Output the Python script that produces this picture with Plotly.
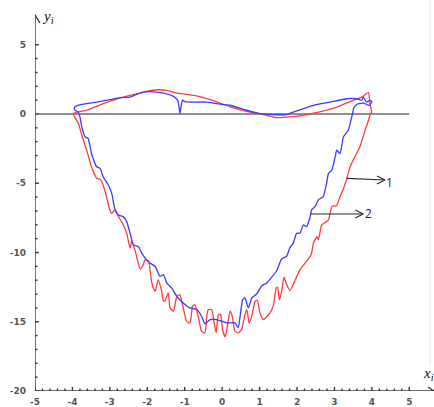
import plotly.graph_objects as go

# ---- data -------------------------------------------------------------
red_x = [-3.98, -3.62, -3.18, -2.73, -2.46, -2.19, -2.02, -1.72, -1.48, -1.21,
         -0.95, -0.68, -0.32, -0.06, 0.21, 0.65, 1.10, 1.46, 1.81, 2.26,
         2.61, 3.06, 3.50, 3.77, 3.84, 3.91, 3.95, 3.99,
         3.95, 3.91, 3.82, 3.68, 3.50, 3.42, 3.33, 3.24, 3.15, 3.06,
         2.93, 2.84, 2.72, 2.66, 2.57, 2.53, 2.44, 2.39, 2.35, 2.08,
         1.90, 1.81, 1.72, 1.65, 1.59, 1.53, 1.48, 1.44, 1.37, 1.28,
         1.10, 1.01, 0.94, 0.88, 0.79, 0.72, 0.66, 0.61, 0.52, 0.43,
         0.34, 0.27, 0.21, 0.14, 0.08, 0.01, -0.04, -0.10, -0.16, -0.22,
         -0.28, -0.37, -0.41, -0.46, -0.55, -0.64, -0.73, -0.79, -0.86, -0.95,
         -1.04, -1.13, -1.21, -1.30, -1.39, -1.44, -1.53, -1.57, -1.62, -1.71,
         -1.79, -1.88, -1.97, -2.06, -2.11, -2.19, -2.33, -2.42, -2.46, -2.55,
         -2.64, -2.77, -2.86, -2.95, -3.00, -3.09, -3.18, -3.26, -3.35, -3.49,
         -3.62, -3.75, -3.84, -3.98]
red_y = [0.03, 0.27, 0.75, 1.15, 1.35, 1.51, 1.63, 1.75, 1.70, 1.51,
         1.42, 1.30, 1.03, 0.79, 0.52, 0.19, -0.04, -0.26, -0.21, -0.04,
         0.15, 0.50, 0.99, 1.27, 1.45, 1.55, 0.75, 0.14,
         -0.09, -0.45, -1.17, -2.37, -3.33, -3.81, -4.65, -5.40, -5.97, -6.60,
         -6.69, -7.65, -7.90, -8.01, -9.09, -8.85, -9.32, -10.04, -10.29, -11.24,
         -12.30, -12.75, -12.30, -11.78, -12.80, -13.40, -12.50, -12.60, -13.80, -14.36,
         -14.84, -14.36, -13.45, -13.52, -14.60, -15.08, -14.12, -14.48, -15.56, -15.80,
         -15.68, -14.60, -14.24, -15.32, -16.09, -15.56, -14.48, -14.48, -15.80, -14.96,
         -14.12, -14.12, -14.60, -15.80, -15.68, -14.60, -13.76, -13.88, -15.08, -14.96,
         -14.00, -13.04, -13.17, -14.24, -14.00, -12.92, -13.50, -13.50, -12.75, -11.96,
         -12.81, -12.20, -10.60, -10.53, -10.90, -11.20, -9.81, -9.21, -9.68, -8.61,
         -8.01, -7.41, -6.93, -7.17, -6.93, -5.97, -5.13, -4.72, -4.65, -3.81,
         -2.61, -1.53, -0.69, 0.03]

blue_x = [-3.93, -3.95, -3.88, -3.80, -3.35, -3.00, -2.73, -2.46, -2.30, -2.11,
          -1.84, -1.57, -1.30, -1.19, -1.15, -1.13, -1.10, -1.06, -1.00, -0.86,
          -0.41, -0.15, 0.21, 0.65, 1.01, 1.37, 1.72, 1.90, 2.44, 2.88,
          3.33, 3.59, 3.73, 3.77, 3.86, 3.95, 4.00, 3.92, 3.78, 3.62, 3.52,
          3.48, 3.42, 3.37, 3.24, 3.15, 3.06, 3.02, 2.93, 2.84, 2.79,
          2.70, 2.57, 2.48, 2.39, 2.35, 2.26, 2.17, 2.08, 1.99, 1.90,
          1.81, 1.72, 1.59, 1.46, 1.32, 1.19, 1.06, 0.92, 0.79, 0.70,
          0.61, 0.55, 0.48, 0.43, 0.34, 0.12, -0.01, -0.15, -0.32, -0.46,
          -0.55, -0.68, -0.86, -1.04, -1.21, -1.35, -1.48, -1.57, -1.66, -1.79,
          -1.93, -2.02, -2.15, -2.24, -2.37, -2.46, -2.55, -2.64, -2.77, -2.86,
          -2.95, -3.04, -3.18, -3.26, -3.35, -3.49, -3.58, -3.66, -3.75, -3.80,
          -3.85, -3.93]
blue_y = [0.27, 0.45, 0.60, 0.66, 0.86, 1.03, 1.18, 1.22, 1.40, 1.58,
          1.60, 1.51, 1.27, 1.00, 0.50, 0.03, 0.50, 1.00, 0.90, 0.86,
          0.86, 0.75, 0.63, 0.27, 0.03, -0.04, -0.04, 0.14, 0.63, 0.86,
          1.10, 1.10, 0.99, 1.22, 0.86, 0.99, 0.86, 0.62, 0.78, 0.72, 0.45,
          0.00, -0.69, -1.17, -1.65, -2.85, -2.61, -3.09, -4.05, -4.29, -5.01,
          -5.97, -6.21, -6.69, -6.93, -7.41, -8.13, -8.01, -8.61, -8.61, -9.32,
          -9.65, -10.29, -10.45, -11.30, -11.80, -12.20, -12.40, -13.00, -13.30, -14.00,
          -13.28, -13.40, -14.60, -15.44, -15.08, -15.08, -14.96, -14.84, -14.84, -15.13,
          -14.60, -14.12, -14.00, -13.64, -13.17, -12.56, -12.20, -11.60, -11.73, -11.01,
          -10.76, -10.53, -10.04, -9.57, -9.45, -8.61, -7.77, -7.41, -7.29, -6.93,
          -5.73, -5.13, -4.53, -3.93, -3.81, -2.85, -1.77, -1.65, -0.94, -0.21,
          0.15, 0.27]

x_ticks = [-5, -4, -3, -2, -1, 0, 1, 2, 3, 4, 5]
y_ticks = [-20, -15, -10, -5, 0, 5]
x_minor_step = 0.2
y_minor_step = 1

# curve labels: (start on curve, arrow tip, label position, text)
pointer_1 = dict(x0=3.33, y0=-4.65, x1=4.35, y1=-4.77, tx=4.48, ty=-4.98, text="1")
pointer_2 = dict(x0=2.35, y0=-7.22, x1=3.77, y1=-7.22, tx=3.92, ty=-7.22, text="2")

# ---- geometry ---------------------------------------------------------
W, H = 434, 407
ML, MB = 35, 16
X_RANGE = [-5, 5.66]
Y_RANGE = [-20, 8.23]
kx = (W - ML) / (X_RANGE[1] - X_RANGE[0])   # px per x unit
ky = (H - MB) / (Y_RANGE[1] - Y_RANGE[0])   # px per y unit


def dx(px):
    return px / kx


def dy(px):
    return px / ky


AXIS_COLOR = "#3a3a3a"
x0_axis, y0_axis = X_RANGE[0], Y_RANGE[0]
y_top = Y_RANGE[1] - dy(15)
x_end = X_RANGE[1]

fig = go.Figure()

# axis lines with tick marks crossing them
ax_x, ax_y = [], []
ax_x += [x0_axis, x0_axis, None]; ax_y += [y0_axis, y_top, None]
ax_x += [x0_axis, x_end, None]; ax_y += [y0_axis, y0_axis, None]
# arrow heads
ax_x += [x0_axis - dx(5), x0_axis, x0_axis + dx(5), None]
ax_y += [y_top - dy(8), y_top, y_top - dy(8), None]
ax_x += [x_end - dx(6), x_end, x_end - dx(6), None]
ax_y += [y0_axis + dy(4), y0_axis, y0_axis - dy(4), None]

n_minor_x = int(round((x_ticks[-1] - x_ticks[0]) / x_minor_step))
for i in range(n_minor_x + 1):
    xv = x_ticks[0] + i * x_minor_step
    major = abs(xv - round(xv)) < 1e-6
    h = 4 if major else 2.5
    ax_x += [xv, xv, None]
    ax_y += [y0_axis - dy(h), y0_axis + dy(h), None]

n_minor_y = int(round((y_ticks[-1] - y_ticks[0]) / y_minor_step))
for i in range(n_minor_y + 1):
    yv = y_ticks[0] + i * y_minor_step
    major = abs(yv / 5 - round(yv / 5)) < 1e-6
    h = 4 if major else 2.5
    ax_x += [x0_axis - dx(h), x0_axis + dx(h), None]
    ax_y += [yv, yv, None]

fig.add_trace(go.Scatter(x=ax_x, y=ax_y, mode="lines",
                         line=dict(color=AXIS_COLOR, width=1.4),
                         hoverinfo="skip", showlegend=False, cliponaxis=False))

# horizontal zero line
fig.add_trace(go.Scatter(x=[x_ticks[0], x_ticks[-1]], y=[0, 0], mode="lines",
                         line=dict(color="#6b6b6b", width=1.6),
                         hoverinfo="skip", showlegend=False))

# the two closed curves
fig.add_trace(go.Scatter(x=red_x, y=red_y, mode="lines", name="1",
                         line=dict(color="#ff3b3b", width=1.3, shape="spline", smoothing=0.5),
                         showlegend=False))
fig.add_trace(go.Scatter(x=blue_x, y=blue_y, mode="lines", name="2",
                         line=dict(color="#3b3bff", width=1.3, shape="spline", smoothing=0.5),
                         showlegend=False))

# label pointers with open arrow heads
for p in (pointer_1, pointer_2):
    px_ = [p["x0"], p["x1"], None,
           p["x1"] - dx(8), p["x1"], p["x1"] - dx(8)]
    py_ = [p["y0"], p["y1"], None,
           p["y1"] + dy(4), p["y1"], p["y1"] - dy(4)]
    fig.add_trace(go.Scatter(x=px_, y=py_, mode="lines",
                             line=dict(color="#2a2a2a", width=1.1),
                             hoverinfo="skip", showlegend=False))
    fig.add_annotation(x=p["tx"], y=p["ty"], text=p["text"], showarrow=False,
                       xanchor="center", yanchor="middle",
                       font=dict(family="Open Sans", size=12, color="#1f2840"))

# axis titles
fig.add_annotation(x=x0_axis + dx(5), y=Y_RANGE[1] - dy(17), text="<i>y<sub>i</sub></i>",
                   showarrow=False, xanchor="left", yanchor="middle",
                   font=dict(family="Liberation Serif", size=15, color="#111111"))
fig.add_annotation(x=x_end - dx(13), y=y0_axis + dy(17), text="<i>x<sub>i</sub></i>",
                   showarrow=False, xanchor="left", yanchor="middle",
                   font=dict(family="Liberation Serif", size=15, color="#111111"))

# faint frame edge on the right
fig.add_shape(type="line", xref="x", yref="paper",
              x0=X_RANGE[0] + dx(430 - ML), x1=X_RANGE[0] + dx(430 - ML),
              y0=1 - 365 / (H - MB), y1=1,
              line=dict(color="#e8e8e8", width=1))

tick_font = dict(family="DejaVu Sans", size=9, color="#555555", weight="bold")
fig.update_layout(
    width=W, height=H,
    margin=dict(l=ML, r=0, t=0, b=MB, pad=0),
    paper_bgcolor="white", plot_bgcolor="white",
    xaxis=dict(range=X_RANGE, tickvals=x_ticks, ticktext=[str(v) for v in x_ticks],
               showgrid=False, zeroline=False, showline=False, ticks="",
               tickfont=tick_font, ticklabelstandoff=4, fixedrange=True),
    yaxis=dict(range=Y_RANGE, tickvals=y_ticks, ticktext=[str(v) for v in y_ticks],
               showgrid=False, zeroline=False, showline=False, ticks="",
               tickfont=tick_font, ticklabelstandoff=8, fixedrange=True),
)

fig.write_html("out.html")
